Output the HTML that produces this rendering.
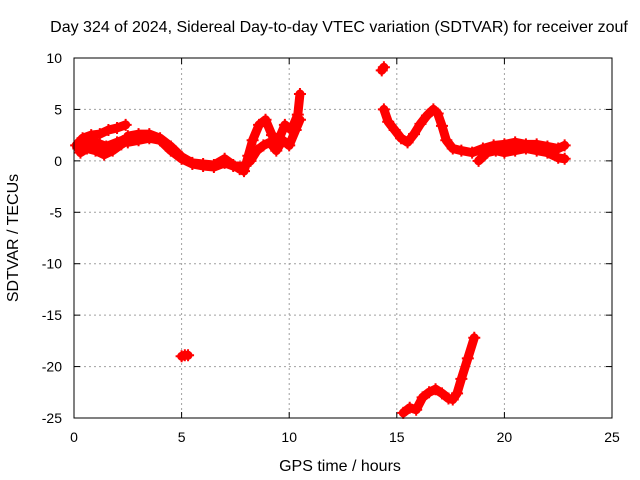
<!DOCTYPE html>
<html><head><meta charset="utf-8"><style>
body{margin:0;background:#fff;}
svg{display:block;font-family:"Liberation Sans",sans-serif;}
</style></head><body>
<svg id="c" width="640" height="480">
<rect width="640" height="480" fill="#fff"/>
<text x="339" y="32" font-size="16" text-anchor="middle">Day 324 of 2024, Sidereal Day-to-day VTEC variation (SDTVAR) for receiver zouf</text>
<text x="340" y="471" font-size="16" text-anchor="middle">GPS time / hours</text>
<text x="18" y="238" font-size="16" text-anchor="middle" transform="rotate(-90 18 238)">SDTVAR / TECUs</text>
<g id="grid"></g><g id="marks"></g>
<rect x="74" y="58" width="538" height="360" fill="none" stroke="#000" stroke-width="1"/>
</svg>
<script>
const xTicks=[0,5,10,15,20,25];
const yTicks=[10,5,0,-5,-10,-15,-20,-25];
const trackUpperX=[0.1,0.4,0.8,1.2,1.6,2.0,2.4];
const trackUpperY=[1.5,2.2,2.5,2.6,3.0,3.2,3.5];
const trackLowerX=[0.3,0.6,1.0,1.4,1.8,2.2,2.5];
const trackLowerY=[0.8,1.2,1.0,0.6,1.0,1.6,2.0];
const trackMidX=[0.2,0.6,1.0,1.5,2.0,2.5];
const trackMidY=[1.2,1.6,1.8,1.4,1.8,2.2];
const trackDayX=[2.5,3.0,3.5,4.0,4.5,5.0,5.5,6.0,6.5,7.0,7.4,7.7,7.9,8.1,8.3,8.6,8.9,9.2,9.5,9.8,10.1,10.4,10.5];
const trackDayY=[2.4,2.6,2.6,2.2,1.4,0.4,-0.2,-0.3,-0.4,0.2,-0.4,-0.8,-1.0,0.5,2.0,3.5,4.0,2.5,2.0,3.5,3.0,4.5,6.5];
const trackDay2X=[2.5,3.0,3.5,4.0,4.5,5.0,5.5,6.0,6.5,7.0,7.4,7.9,8.2,8.5,8.8,9.1,9.4,9.7,10.0,10.3,10.5];
const trackDay2Y=[1.8,2.0,2.2,2.0,1.0,0.2,-0.3,-0.5,-0.6,-0.2,-0.5,-0.5,0.0,1.0,1.5,1.8,1.0,2.0,1.5,3.0,4.0];
const trackEveX=[14.4,14.6,14.9,15.2,15.5,15.8,16.1,16.4,16.7,16.9,17.1,17.3,17.6,18.0,18.5,19.0,19.5,20.0,20.5,21.0,21.5,22.0,22.5,22.8];
const trackEveY=[5.0,3.8,3.0,2.2,1.8,2.6,3.6,4.4,5.0,4.6,3.4,2.0,1.2,1.0,0.8,1.2,1.5,1.6,1.8,1.6,1.6,1.4,1.2,1.5];
const trackEve2X=[18.8,19.2,19.6,20.0,20.5,21.0,21.5,22.0,22.5,22.8];
const trackEve2Y=[0.0,0.8,1.0,0.8,1.0,1.2,1.0,0.8,0.3,0.2];
const trackSpikeX=[14.3,14.4];
const trackSpikeY=[8.8,9.1];
const trackIsoX=[5.0,5.15,5.3];
const trackIsoY=[-19,-18.9,-18.9];
const trackLowX=[15.3,15.6,15.9,16.2,16.5,16.8,17.1,17.4,17.6,17.8,18.0,18.3,18.6];
const trackLowY=[-24.5,-24.0,-24.2,-23.0,-22.5,-22.2,-22.6,-23.1,-23.2,-22.6,-21.2,-19.2,-17.2];
const tracks=[[trackUpperX,trackUpperY],[trackLowerX,trackLowerY],[trackMidX,trackMidY],[trackDayX,trackDayY],[trackDay2X,trackDay2Y],[trackEveX,trackEveY],[trackEve2X,trackEve2Y],[trackSpikeX,trackSpikeY],[trackIsoX,trackIsoY],[trackLowX,trackLowY]];
const NS='http://www.w3.org/2000/svg';
const sx=v=>74+v/25*538, sy=v=>58+(10-v)/35*360;
const grid=document.getElementById('grid'), marks=document.getElementById('marks');
function mk(t,a,p){const e=document.createElementNS(NS,t);for(const k in a)e.setAttribute(k,a[k]);p.appendChild(e);return e;}
xTicks.forEach(v=>{const x=sx(v);
 if(v>0&&v<25){const l=mk('line',{x1:x,y1:58,x2:x,y2:418,stroke:'#a0a0a0','stroke-dasharray':'2,3'},grid);}
 const t=mk('line',{x1:x,y1:418,x2:x,y2:412,stroke:'#000'},grid);
 const t2=mk('line',{x1:x,y1:58,x2:x,y2:64,stroke:'#000'},grid);
 const tx=mk('text',{x:x,y:442,'font-size':14,'text-anchor':'middle'},grid);tx.textContent=v;});
yTicks.forEach(v=>{const y=sy(v);
 if(v<10&&v>-25){const l=mk('line',{x1:74,y1:y,x2:612,y2:y,stroke:'#a0a0a0','stroke-dasharray':'2,3'},grid);}
 const t=mk('line',{x1:74,y1:y,x2:80,y2:y,stroke:'#000'},grid);
 const t2=mk('line',{x1:612,y1:y,x2:606,y2:y,stroke:'#000'},grid);
 const tx=mk('text',{x:62,y:y+5,'font-size':14,'text-anchor':'end'},grid);tx.textContent=v;});
tracks.forEach(([xs,ys])=>{
 const pts=xs.map((x,i)=>sx(x)+','+sy(ys[i])).join(' ');
 const pl=mk('polyline',{points:pts,fill:'none',stroke:'#f00','stroke-width':9,'stroke-linejoin':'round','stroke-linecap':'round'},marks);
 
 
 xs.forEach((x,i)=>{const px=sx(x),py=sy(ys[i]);
  const p=mk('path',{d:`M${px-6},${py}H${px+6}M${px},${py-6}V${py+6}`,stroke:'#f00','stroke-width':2},marks);
  
  });
});
</script>
</body></html>
